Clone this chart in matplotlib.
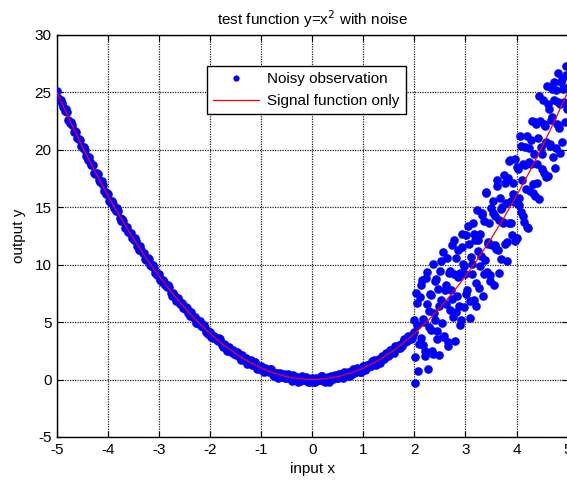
import matplotlib
matplotlib.use("Agg")
import matplotlib.pyplot as plt

# ---------------- data ----------------
left_x = [-5.00, -4.95, -4.90, -4.85, -4.80, -4.75, -4.70, -4.65, -4.60, -4.55,
          -4.50, -4.45, -4.40, -4.35, -4.30, -4.25, -4.20, -4.15, -4.10, -4.05,
          -4.00, -3.95, -3.90, -3.85, -3.80, -3.75, -3.70, -3.65, -3.60, -3.55,
          -3.50, -3.45, -3.40, -3.35, -3.30, -3.25, -3.20, -3.15, -3.10, -3.05,
          -3.00, -2.95, -2.90, -2.85, -2.80, -2.75, -2.70, -2.65, -2.60, -2.55,
          -2.50, -2.45, -2.40, -2.35, -2.30, -2.25, -2.20, -2.15, -2.10, -2.05,
          -2.00, -1.95, -1.90, -1.85, -1.80, -1.75, -1.70, -1.65, -1.60, -1.55,
          -1.50, -1.45, -1.40, -1.35, -1.30, -1.25, -1.20, -1.15, -1.10, -1.05,
          -1.00, -0.95, -0.90, -0.85, -0.80, -0.75, -0.70, -0.65, -0.60, -0.55,
          -0.50, -0.45, -0.40, -0.35, -0.30, -0.25, -0.20, -0.15, -0.10, -0.05,
          0.00, 0.05, 0.10, 0.15, 0.20, 0.25, 0.30, 0.35, 0.40, 0.45,
          0.50, 0.55, 0.60, 0.65, 0.70, 0.75, 0.80, 0.85, 0.90, 0.95,
          1.00, 1.05, 1.10, 1.15, 1.20, 1.25, 1.30, 1.35, 1.40, 1.45,
          1.50, 1.55, 1.60, 1.65, 1.70, 1.75, 1.80, 1.85, 1.90, 1.95,
          2.00]
left_y = [25.15, 24.30, 24.06, 23.42, 23.29, 22.31, 22.19, 21.62, 21.01, 20.90,
          20.15, 20.00, 19.11, 18.97, 18.64, 17.91, 17.89, 17.17, 16.91, 16.20,
          16.15, 15.40, 15.26, 14.72, 14.69, 13.81, 13.79, 13.32, 12.81, 12.80,
          12.15, 12.10, 11.31, 11.27, 11.04, 10.41, 10.49, 9.87, 9.71, 9.10,
          9.15, 8.50, 8.46, 8.02, 8.09, 7.31, 7.39, 7.02, 6.61, 6.70,
          6.15, 6.20, 5.51, 5.57, 5.44, 4.91, 5.09, 4.57, 4.51, 4.00,
          4.15, 3.60, 3.66, 3.32, 3.49, 2.81, 2.99, 2.72, 2.41, 2.60,
          2.15, 2.30, 1.71, 1.87, 1.84, 1.41, 1.69, 1.27, 1.31, 0.90,
          1.15, 0.70, 0.86, 0.62, 0.89, 0.31, 0.59, 0.42, 0.21, 0.50,
          0.15, 0.40, -0.09, 0.17, 0.24, -0.09, 0.29, -0.03, 0.11, -0.20,
          0.15, -0.20, 0.06, -0.08, 0.29, -0.19, 0.19, 0.12, 0.01, 0.40,
          0.15, 0.50, 0.11, 0.47, 0.64, 0.41, 0.89, 0.67, 0.91, 0.70,
          1.15, 0.90, 1.26, 1.22, 1.69, 1.31, 1.79, 1.82, 1.81, 2.30,
          2.15, 2.60, 2.31, 2.77, 3.04, 2.91, 3.49, 3.37, 3.71, 3.60,
          4.10]

left_x_b = [-4.975, -4.925, -4.875, -4.825, -4.775, -4.725, -4.675, -4.625, -4.575, -4.525,
            -4.475, -4.425, -4.375, -4.325, -4.275, -4.225, -4.175, -4.125, -4.075, -4.025,
            -3.975, -3.925, -3.875, -3.825, -3.775, -3.725, -3.675, -3.625, -3.575, -3.525,
            -3.475, -3.425, -3.375, -3.325, -3.275, -3.225, -3.175, -3.125, -3.075, -3.025,
            -2.975, -2.925, -2.875, -2.825, -2.775, -2.725, -2.675, -2.625, -2.575, -2.525,
            -2.475, -2.425, -2.375, -2.325, -2.275, -2.225, -2.175, -2.125, -2.075, -2.025,
            -1.975, -1.925, -1.875, -1.825, -1.775, -1.725, -1.675, -1.625, -1.575, -1.525,
            -1.475, -1.425, -1.375, -1.325, -1.275, -1.225, -1.175, -1.125, -1.075, -1.025,
            -0.975, -0.925, -0.875, -0.825, -0.775, -0.725, -0.675, -0.625, -0.575, -0.525,
            -0.475, -0.425, -0.375, -0.325, -0.275, -0.225, -0.175, -0.125, -0.075, -0.025,
            0.025, 0.075, 0.125, 0.175, 0.225, 0.275, 0.325, 0.375, 0.425, 0.475,
            0.525, 0.575, 0.625, 0.675, 0.725, 0.775, 0.825, 0.875, 0.925, 0.975,
            1.025, 1.075, 1.125, 1.175, 1.225, 1.275, 1.325, 1.375, 1.425, 1.475,
            1.525, 1.575, 1.625, 1.675, 1.725, 1.775, 1.825, 1.875, 1.925, 1.975]
left_y_b = [24.53, 24.38, 23.72, 23.56, 22.62, 22.41, 21.58, 21.57, 20.95, 20.36,
            20.25, 19.46, 19.42, 18.69, 18.02, 18.01, 17.35, 17.26, 16.41, 16.26,
            15.58, 15.53, 14.97, 14.91, 14.07, 13.96, 13.23, 13.32, 12.80, 12.31,
            12.30, 11.61, 11.67, 11.04, 10.47, 10.56, 10.00, 10.01, 9.26, 9.21,
            8.63, 8.68, 8.22, 8.26, 7.52, 7.51, 6.88, 7.07, 6.65, 6.26,
            6.35, 5.76, 5.92, 5.39, 4.92, 5.11, 4.65, 4.76, 4.11, 4.16,
            3.68, 3.83, 3.47, 3.61, 2.97, 3.06, 2.53, 2.82, 2.50, 2.21,
            2.40, 1.91, 2.17, 1.74, 1.37, 1.66, 1.30, 1.51, 0.96, 1.11,
            0.73, 0.98, 0.72, 0.96, 0.42, 0.61, 0.18, 0.57, 0.35, 0.16,
            0.45, 0.06, 0.42, 0.09, -0.18, 0.21, -0.05, 0.26, -0.19, 0.06,
            -0.22, 0.13, -0.03, 0.31, -0.13, 0.16, -0.17, 0.32, 0.20, 0.11,
            0.50, 0.21, 0.67, 0.44, 0.27, 0.76, 0.60, 1.01, 0.66, 1.01,
            0.83, 1.28, 1.22, 1.66, 1.32, 1.71, 1.48, 2.07, 2.05, 2.06,
            2.55, 2.36, 2.92, 2.79, 2.72, 3.31, 3.25, 3.76, 3.51, 3.96]

right_x_a = [2.00, 2.02, 2.04, 2.06, 2.08, 2.10, 2.12, 2.14, 2.16, 2.18,
             2.20, 2.22, 2.24, 2.26, 2.28, 2.30, 2.32, 2.34, 2.36, 2.38,
             2.40, 2.42, 2.44, 2.46, 2.48, 2.50, 2.52, 2.54, 2.56, 2.58,
             2.60, 2.62, 2.64, 2.66, 2.68, 2.70, 2.72, 2.74, 2.76, 2.78,
             2.80, 2.82, 2.84, 2.86, 2.88, 2.90, 2.92, 2.94, 2.96, 2.98,
             3.00, 3.02, 3.04, 3.06, 3.08, 3.10, 3.12, 3.14, 3.16, 3.18,
             3.20, 3.22, 3.24, 3.26, 3.28, 3.30, 3.32, 3.34, 3.36, 3.38,
             3.40, 3.42, 3.44, 3.46, 3.48, 3.50, 3.52, 3.54, 3.56, 3.58,
             3.60, 3.62, 3.64, 3.66, 3.68, 3.70, 3.72, 3.74, 3.76, 3.78,
             3.80, 3.82, 3.84, 3.86, 3.88, 3.90, 3.92, 3.94, 3.96, 3.98,
             4.00, 4.02, 4.04, 4.06, 4.08, 4.10, 4.12, 4.14, 4.16, 4.18,
             4.20, 4.22, 4.24, 4.26, 4.28, 4.30, 4.32, 4.34, 4.36, 4.38,
             4.40, 4.42, 4.44, 4.46, 4.48, 4.50, 4.52, 4.54, 4.56, 4.58,
             4.60, 4.62, 4.64, 4.66, 4.68, 4.70, 4.72, 4.74, 4.76, 4.78,
             4.80, 4.82, 4.84, 4.86, 4.88, 4.90, 4.92, 4.94, 4.96, 4.98,
             5.00]
right_y_a = [5.20, 1.98, 7.56, 4.74, 0.73, 7.21, 3.59, 8.68, 2.97, 5.05,
             2.04, 8.83, 6.62, 0.91, 6.00, 7.49, 4.28, 2.48, 10.07, 5.76,
             5.16, 8.76, 3.55, 7.85, 2.15, 9.45, 6.95, 4.95, 11.15, 3.76,
             7.76, 6.56, 10.57, 3.28, 9.28, 6.09, 7.80, 11.71, 5.42, 9.23,
             3.34, 10.55, 7.27, 11.28, 6.39, 9.31, 5.23, 12.64, 10.06, 6.28,
             9.20, 12.62, 7.84, 11.76, 5.39, 10.71, 9.23, 13.66, 6.89, 12.11,
             8.44, 14.77, 11.20, 7.93, 12.66, 10.79, 14.32, 7.26, 13.79, 10.42,
             16.36, 9.40, 11.83, 13.67, 8.61, 14.95, 11.69, 15.53, 8.27, 14.22,
             11.36, 17.40, 11.25, 13.90, 15.84, 10.49, 15.04, 13.59, 17.84, 11.79,
             15.34, 10.29, 17.55, 13.60, 19.15, 15.51, 12.57, 17.12, 15.48, 19.24,
             12.30, 18.36, 15.22, 21.18, 14.55, 17.41, 18.77, 13.74, 20.21, 16.57,
             21.24, 13.21, 18.98, 16.45, 20.82, 22.49, 16.26, 19.64, 16.01, 22.28,
             18.76, 21.04, 15.71, 22.49, 20.27, 18.35, 24.33, 18.01, 22.09, 20.68,
             25.56, 17.74, 23.53, 20.32, 22.60, 25.29, 19.38, 24.37, 18.46, 25.25,
             22.24, 26.73, 21.93, 24.02, 25.91, 20.71, 25.31, 22.40, 27.30, 23.60,
             25.50]

right_x_b = [2.01, 2.05, 2.09, 2.13, 2.17, 2.21, 2.25, 2.29, 2.33, 2.37,
             2.41, 2.45, 2.49, 2.53, 2.57, 2.61, 2.65, 2.69, 2.73, 2.77,
             2.81, 2.85, 2.89, 2.93, 2.97, 3.01, 3.05, 3.09, 3.13, 3.17,
             3.21, 3.25, 3.29, 3.33, 3.37, 3.41, 3.45, 3.49, 3.53, 3.57,
             3.61, 3.65, 3.69, 3.73, 3.77, 3.81, 3.85, 3.89, 3.93, 3.97,
             4.01, 4.05, 4.09, 4.13, 4.17, 4.21, 4.25, 4.29, 4.33, 4.37,
             4.41, 4.45, 4.49, 4.53, 4.57, 4.61, 4.65, 4.69, 4.73, 4.77,
             4.81, 4.85, 4.89, 4.93, 4.97]
right_y_b = [-0.30, 6.70, 3.07, 8.24, 5.31, 2.48, 9.36, 4.54, 7.33, 2.22,
             8.61, 4.20, 6.40, 10.30, 3.70, 8.21, 2.92, 9.44, 7.05, 12.17,
             5.90, 8.92, 4.75, 11.58, 9.92, 7.46, 13.40, 6.85, 10.10, 12.65,
             6.40, 12.16, 9.92, 14.49, 9.16, 16.23, 12.00, 9.08, 14.46, 11.74,
             16.83, 9.32, 14.82, 13.71, 17.11, 12.02, 19.02, 13.63, 16.14, 12.06,
             18.48, 15.80, 20.33, 14.26, 18.69, 13.32, 20.16, 18.80, 17.05, 22.40,
             17.15, 24.70, 19.66, 22.22, 17.68, 23.95, 20.52, 22.90, 25.87, 20.15,
             24.14, 19.72, 26.21, 24.20, 26.50]

signal_x = [-5.0, -4.75, -4.5, -4.25, -4.0, -3.75, -3.5, -3.25, -3.0, -2.75,
            -2.5, -2.25, -2.0, -1.75, -1.5, -1.25, -1.0, -0.75, -0.5, -0.25,
            0.0, 0.25, 0.5, 0.75, 1.0, 1.25, 1.5, 1.75, 2.0, 2.25,
            2.5, 2.75, 3.0, 3.25, 3.5, 3.75, 4.0, 4.25, 4.5, 4.75, 5.0]
signal_y = [25.0, 22.5625, 20.25, 18.0625, 16.0, 14.0625, 12.25, 10.5625, 9.0, 7.5625,
            6.25, 5.0625, 4.0, 3.0625, 2.25, 1.5625, 1.0, 0.5625, 0.25, 0.0625,
            0.0, 0.0625, 0.25, 0.5625, 1.0, 1.5625, 2.25, 3.0625, 4.0, 5.0625,
            6.25, 7.5625, 9.0, 10.5625, 12.25, 14.0625, 16.0, 18.0625, 20.25, 22.5625, 25.0]

x_ticks = [-5, -4, -3, -2, -1, 0, 1, 2, 3, 4, 5]
y_ticks = [-5, 0, 5, 10, 15, 20, 25, 30]

# ---------------- plot ----------------
plt.rcParams['font.family'] = ['Liberation Sans', 'DejaVu Sans']
plt.rcParams['font.size'] = 11
plt.rcParams['axes.unicode_minus'] = False

fig = plt.figure(figsize=(5.67, 4.8), dpi=100)
ax = fig.add_axes([57 / 567, 43 / 480, 1 - 57 / 567 + 0.001, (437 - 35) / 480])

obs_x = left_x + left_x_b + right_x_a + right_x_b
obs_y = left_y + left_y_b + right_y_a + right_y_b
ax.plot(obs_x, obs_y, linestyle='none', marker='o', ms=6.2, mfc='#0000ff',
        mec='#0000ff', mew=0, label='Noisy observation', zorder=3)
ax.plot(signal_x, signal_y, color='#ff0000', lw=0.9, label='Signal function only', zorder=4)

ax.set_xlim(-5, 5)
ax.set_ylim(-5, 30)
ax.set_xticks(x_ticks)
ax.set_yticks(y_ticks)
ax.grid(True, linestyle=(0, (1, 1)), color='#202020', linewidth=0.9)
ax.set_axisbelow(True)
ax.tick_params(direction='in', top=True, right=True, length=4, width=0.8,
               labelsize=11, colors='black', pad=4)
for sp in ax.spines.values():
    sp.set_linewidth(1.0)
    sp.set_color('black')

ax.set_title('test function y=x$^2$ with noise', fontsize=11, pad=7)
ax.set_xlabel('input x', fontsize=11, labelpad=4)
ax.set_ylabel('output y', fontsize=11, labelpad=6)

leg = ax.legend(loc='upper left', bbox_to_anchor=(207 / 567, 1 - 66 / 480),
                bbox_transform=fig.transFigure, fontsize=11, frameon=True,
                fancybox=False, framealpha=1, edgecolor='black',
                handlelength=3.0, borderpad=0.42, labelspacing=0.5,
                handletextpad=0.5, borderaxespad=0)
leg.get_frame().set_linewidth(1.0)
leg.legend_handles[0].set_markersize(4.5)

fig.savefig('out.png', dpi=100)
